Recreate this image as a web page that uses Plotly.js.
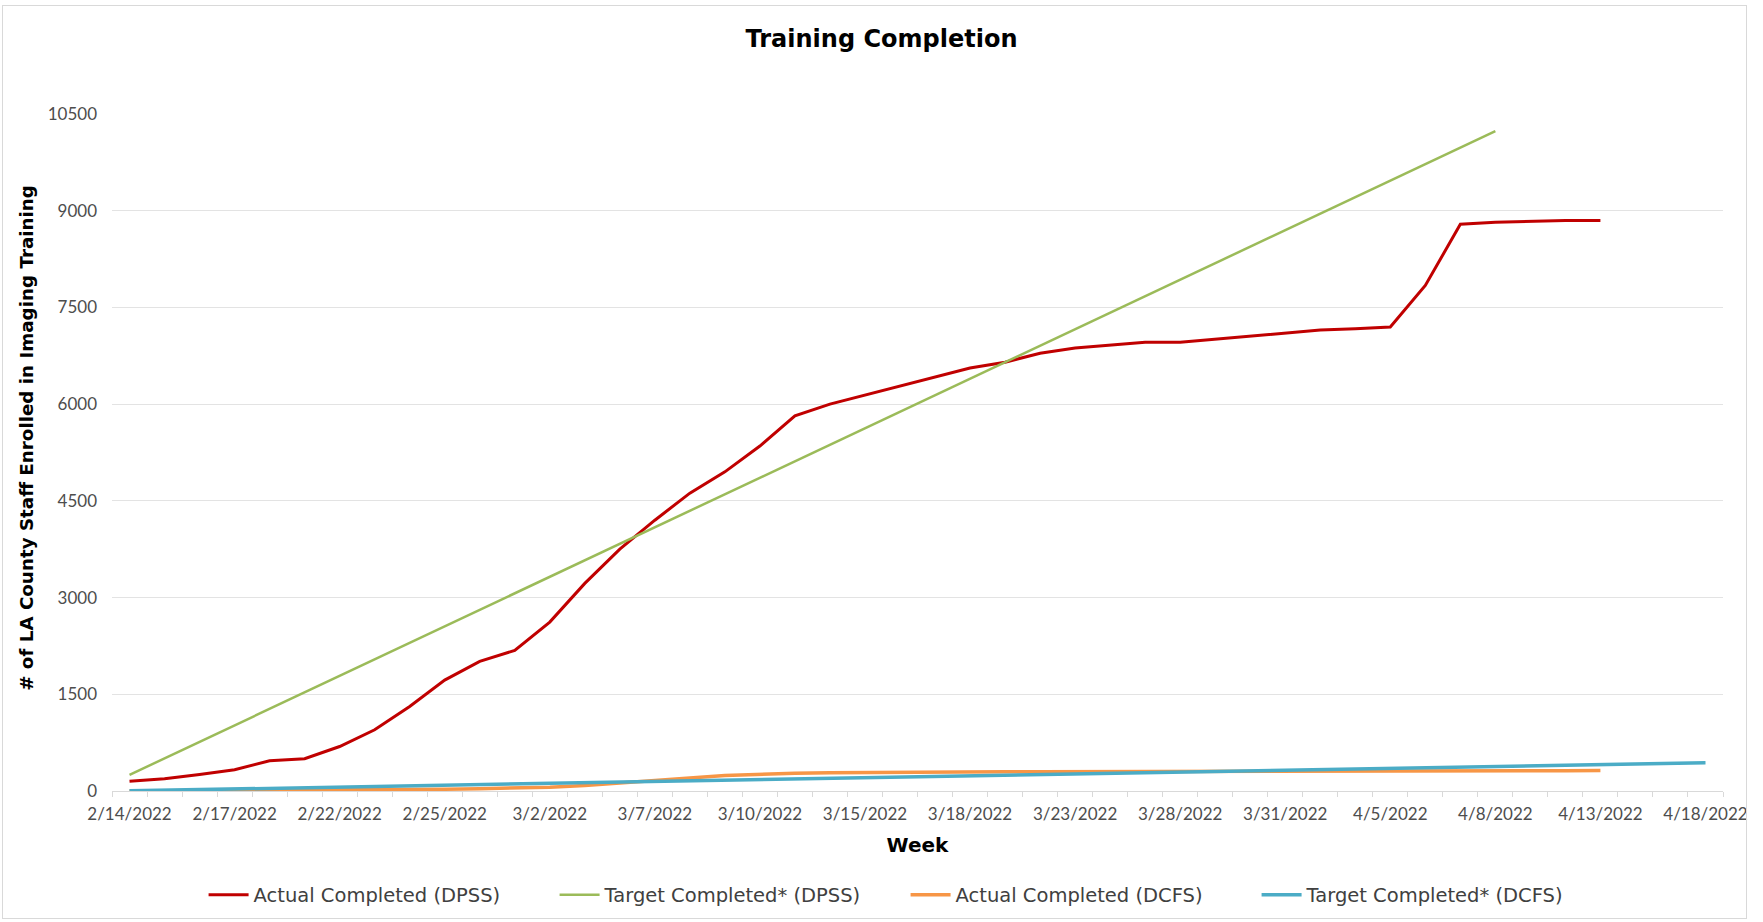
<!DOCTYPE html>
<html>
<head>
<meta charset="utf-8">
<script src="https://cdn.plot.ly/plotly-3.0.1.min.js"></script>
<style>
  html, body { margin: 0; padding: 0; background: #ffffff; }
  #wrap { position: relative; width: 1763px; height: 922px; }
  #chart { position: absolute; left: 0; top: 0; width: 1763px; height: 922px; }
  #frame { position: absolute; left: 2px; top: 5px; width: 1743px; height: 912px;
           border: 1px solid #d9d9d9; pointer-events: none; }
</style>
</head>
<body>
<div id="wrap">
  <div id="chart"></div>
  <div id="frame"></div>
</div>
<script>
// Business days shown on the category axis
const dates = [
  "2/14/2022","2/15/2022","2/16/2022","2/17/2022","2/18/2022",
  "2/21/2022","2/22/2022","2/23/2022","2/24/2022","2/25/2022",
  "2/28/2022","3/1/2022","3/2/2022","3/3/2022","3/4/2022",
  "3/7/2022","3/8/2022","3/9/2022","3/10/2022","3/11/2022",
  "3/14/2022","3/15/2022","3/16/2022","3/17/2022","3/18/2022",
  "3/21/2022","3/22/2022","3/23/2022","3/24/2022","3/25/2022",
  "3/28/2022","3/29/2022","3/30/2022","3/31/2022","4/1/2022",
  "4/4/2022","4/5/2022","4/6/2022","4/7/2022","4/8/2022",
  "4/11/2022","4/12/2022","4/13/2022","4/14/2022","4/15/2022",
  "4/18/2022"
];

// Labels shown under the axis
const tickLabels = [
  "2/14/2022","2/17/2022","2/22/2022","2/25/2022","3/2/2022","3/7/2022",
  "3/10/2022","3/15/2022","3/18/2022","3/23/2022","3/28/2022","3/31/2022",
  "4/5/2022","4/8/2022","4/13/2022","4/18/2022"
];

const actualDPSS = [
  150, 190, 255, 330, 470, 500, 690, 950, 1310, 1720,
  2010, 2180, 2620, 3220, 3750, 4200, 4620, 4950, 5350, 5820,
  6000, 6140, 6280, 6420, 6560, 6650, 6790, 6870, 6920, 6960,
  6960, 7010, 7060, 7110, 7150, 7170, 7195, 7840, 8790, 8820,
  8840, 8850, 8850
];

const targetDPSS = [
  250, 506, 762, 1018, 1274, 1530, 1786, 2042, 2298, 2554,
  2810, 3066, 3322, 3578, 3834, 4090, 4346, 4602, 4858, 5114,
  5370, 5626, 5882, 6138, 6394, 6650, 6906, 7162, 7418, 7674,
  7930, 8186, 8442, 8698, 8954, 9210, 9466, 9722, 9978, 10234
];

const actualDCFS = [
  0, 2, 5, 8, 10, 12, 15, 18, 22, 28,
  35, 45, 60, 85, 120, 160, 200, 240, 262, 275,
  282, 288, 292, 295, 297, 299, 300, 302, 303, 304,
  305, 306, 307, 308, 309, 310, 311, 312, 313, 314,
  315, 316, 318
];

const targetDCFS = [
  2, 12, 21, 31, 41, 50, 60, 70, 80, 89,
  99, 109, 118, 128, 138, 148, 157, 167, 177, 186,
  196, 206, 215, 225, 235, 245, 254, 264, 274, 283,
  293, 303, 312, 322, 332, 342, 351, 361, 371, 380,
  390, 400, 409, 419, 429, 439
];

const seriesNames = [
  "Actual Completed (DPSS)", "Target Completed* (DPSS)",
  "Actual Completed (DCFS)", "Target Completed* (DCFS)"
];

const FONT = "Lato, 'Open Sans', sans-serif";
const WIDE = "'DejaVu Sans', Lato, sans-serif";

function mk(vals, name, color, width) {
  return {
    type: "scatter", mode: "lines",
    x: dates.slice(0, vals.length), y: vals,
    name: name,
    line: { color: color, width: width },
    hoverinfo: "x+y+name"
  };
}

const traces = [
  mk(actualDPSS, seriesNames[0], "#C00000", 3),
  mk(targetDPSS, seriesNames[1], "#9BBB59", 2.5),
  mk(actualDCFS, seriesNames[2], "#F79646", 3.5),
  mk(targetDCFS, seriesNames[3], "#4BACC6", 3.5)
];

const tickText = dates.map(d => tickLabels.includes(d) ? d : "");

const layout = {
  width: 1763, height: 922,
  paper_bgcolor: "#ffffff", plot_bgcolor: "#ffffff",
  margin: { l: 112, r: 40, t: 114, b: 131 },
  font: { family: FONT, color: "#595959" },
  showlegend: true,
  title: {
    text: "<b>Training Completion</b>",
    font: { family: WIDE, size: 24, color: "#000000" },
    x: 0.5, xanchor: "center", xref: "container",
    y: 1 - 39 / 922, yanchor: "middle", yref: "container"
  },
  xaxis: {
    type: "category",
    range: [-0.5, dates.length - 0.5],
    tickmode: "array",
    tickvals: dates,
    ticktext: tickText,
    tickson: "boundaries",
    ticks: "outside", ticklen: 5, tickcolor: "#d9d9d9", tickwidth: 1,
    tickangle: 0, ticklabelstandoff: 8,
    showgrid: false, zeroline: false,
    showline: true, linecolor: "#d9d9d9", linewidth: 1,
    tickfont: { family: FONT, size: 17, color: "#4d4d4d" },
    title: { text: "<b>Week</b>", font: { family: WIDE, size: 20, color: "#000000" }, standoff: 14 },
    automargin: false, fixedrange: true
  },
  yaxis: {
    range: [0, 10500],
    tickmode: "linear", tick0: 0, dtick: 1500, tickformat: "d",
    showgrid: true, gridcolor: "#e3e3e3", gridwidth: 1,
    zeroline: false, showline: false,
    ticks: "", ticklabelstandoff: 14,
    tickfont: { family: FONT, size: 17, color: "#4d4d4d" },
    title: { text: "&nbsp;&nbsp;&nbsp;&nbsp;&nbsp;<b># of LA County Staff Enrolled in Imaging Training</b>",
             font: { family: WIDE, size: 18.3, color: "#000000" }, standoff: 9 },
    automargin: false, fixedrange: true
  },
  legend: {
    orientation: "h",
    x: 0.4926, xanchor: "center", xref: "paper",
    y: 1 - 895 / 922, yanchor: "middle", yref: "container",
    font: { family: WIDE, size: 19.5, color: "#404040" },
    itemwidth: 40,
    entrywidth: 296, entrywidthmode: "pixels",
    traceorder: "normal",
    bgcolor: "rgba(0,0,0,0)"
  }
};

Plotly.newPlot("chart", traces, layout, { displayModeBar: false });
</script>
</body>
</html>
